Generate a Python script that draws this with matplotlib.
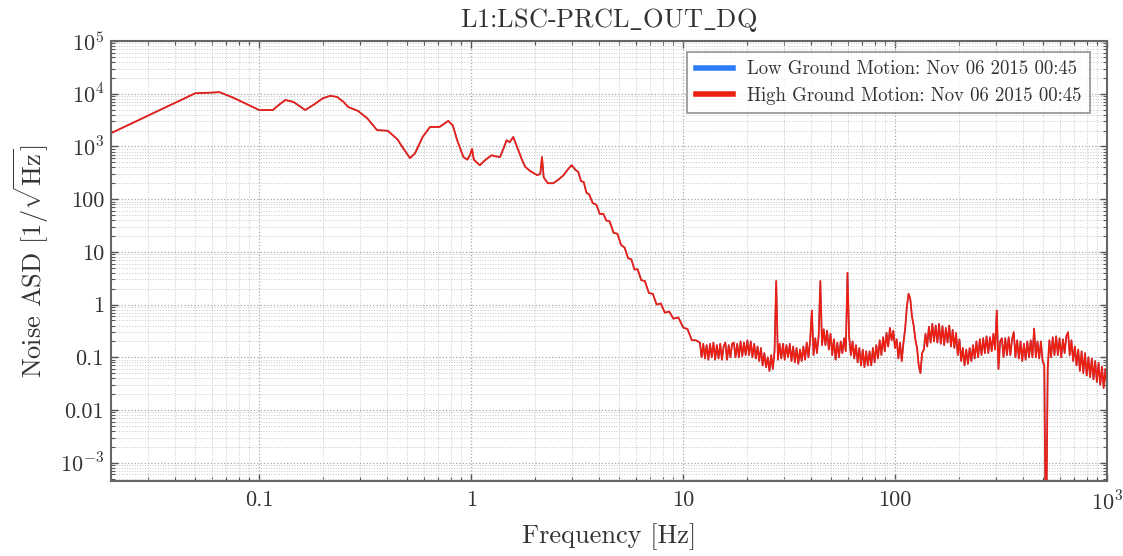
import numpy as np
import matplotlib
matplotlib.use("Agg")
import matplotlib.pyplot as plt
from matplotlib.ticker import FixedLocator, FixedFormatter, LogLocator, NullFormatter

TITLE = "L1:LSC-PRCL_OUT_DQ"
LOW_LABEL = "Low Ground Motion: Nov 06 2015 00:45"
HIGH_LABEL = "High Ground Motion: Nov 06 2015 00:45"

# Sparse low-frequency bins (Hz) and amplitude spectral density (1/sqrt(Hz))
FREQ_LOW = [0.020, 0.030, 0.040, 0.050, 0.060, 0.065, 0.075, 0.085, 0.100, 0.116,
            0.125, 0.133, 0.145, 0.165, 0.180, 0.200, 0.216, 0.233, 0.250, 0.263,
            0.293, 0.323, 0.360, 0.405, 0.450, 0.480, 0.515, 0.544, 0.590, 0.640,
            0.710, 0.780, 0.820, 0.860, 0.920, 0.960, 0.990, 1.010, 1.030, 1.100,
            1.170, 1.250, 1.300, 1.370, 1.420, 1.470, 1.520, 1.580, 1.630, 1.670,
            1.740, 1.800, 1.900, 2.050, 2.120, 2.160, 2.200, 2.300, 2.440, 2.600,
            2.730, 2.850, 2.980]
ASD_LOW = [1780, 3850, 6640, 10200, 10500, 10700, 8500, 6700, 4900, 4900,
           6300, 7600, 7000, 4900, 6100, 8200, 9100, 8700, 7000, 5600,
           4700, 3440, 2040, 1980, 1350, 900, 600, 740, 1500, 2340,
           2340, 3050, 2500, 1300, 630, 560, 700, 900, 560, 440,
           560, 680, 650, 630, 900, 1310, 1200, 1510, 1100, 850,
           550, 410, 340, 285, 300, 630, 260, 200, 200, 240,
           285, 360, 440]

# Roll-off between 3 Hz and 12 Hz
FREQ_MID = [3.0, 3.1, 3.2, 3.3, 3.4, 3.5, 3.6, 3.75, 3.9, 4.05,
            4.2, 4.35, 4.5, 4.7, 4.9, 5.1, 5.3, 5.5, 5.7, 5.9,
            6.1, 6.35, 6.6, 6.9, 7.2, 7.5, 7.85, 8.2, 8.6, 9.0,
            9.5, 10.0, 10.5, 11.0, 11.5]
ASD_MID = [430, 360, 330, 220, 210, 132, 124, 84, 78, 52,
           53, 39, 38, 23, 22, 13.5, 12, 7.6, 7.2, 4.6,
           4.7, 2.9, 2.8, 1.65, 1.6, 1.0, 1.05, 0.70, 0.74, 0.54,
           0.57, 0.37, 0.34, 0.21, 0.21]

# Dense log-spaced bins from 12 Hz to 1 kHz
ASD_HIGH = [
    0.19, 0.10, 0.18, 0.095, 0.17, 0.09, 0.18, 0.10, 0.19, 0.09, 0.17, 0.095, 0.18, 0.09, 0.16, 0.19, 0.09, 0.17, 0.10, 0.18,
    0.19, 0.10, 0.18, 0.10, 0.20, 0.105, 0.19, 0.11, 0.21, 0.11, 0.20, 0.10, 0.18, 0.095, 0.16, 0.085, 0.15, 0.07, 0.12, 0.065,
    0.10, 0.055, 0.11, 0.06, 0.13, 2.8, 0.09, 0.18, 0.095, 0.18, 0.09, 0.17, 0.10, 0.18, 0.085, 0.16, 0.08, 0.15, 0.075, 0.14,
    0.085, 0.16, 0.09, 0.19, 0.10, 0.21, 0.77, 0.11, 0.23, 0.12, 0.25, 2.8, 0.17, 0.34, 0.17, 0.32, 0.14, 0.28, 0.11, 0.22,
    0.09, 0.19, 0.10, 0.20, 0.12, 0.23, 0.13, 4.0, 0.24, 0.11, 0.20, 0.095, 0.17, 0.08, 0.15, 0.07, 0.14, 0.065, 0.13, 0.07,
    0.13, 0.07, 0.15, 0.08, 0.17, 0.095, 0.21, 0.11, 0.24, 0.13, 0.29, 0.16, 0.36, 0.21, 0.32, 0.15, 0.22, 0.095, 0.19, 0.085,
    0.19, 0.35, 0.9, 1.6, 1.3, 0.6, 0.4, 0.22, 0.15, 0.07, 0.05, 0.12, 0.14, 0.28, 0.16, 0.38, 0.19, 0.43, 0.20, 0.40,
    0.19, 0.43, 0.18, 0.39, 0.17, 0.36, 0.19, 0.40, 0.16, 0.33, 0.15, 0.29, 0.11, 0.22, 0.085, 0.15, 0.07, 0.14, 0.075, 0.15,
    0.085, 0.17, 0.095, 0.20, 0.10, 0.22, 0.11, 0.23, 0.12, 0.25, 0.12, 0.24, 0.13, 0.28, 0.14, 0.77, 0.06, 0.20, 0.23, 0.10,
    0.23, 0.11, 0.24, 0.11, 0.22, 0.30, 0.10, 0.21, 0.095, 0.20, 0.085, 0.18, 0.09, 0.20, 0.10, 0.21, 0.10, 0.35, 0.10, 0.20,
    0.095, 0.20, 0.085, 0.07, 1e-5, 0.06, 0.21, 0.10, 0.24, 0.11, 0.25, 0.11, 0.23, 0.10, 0.22, 0.12, 0.25, 0.30, 0.11, 0.21,
    0.085, 0.16, 0.07, 0.14, 0.055, 0.13, 0.05, 0.12, 0.045, 0.10, 0.042, 0.095, 0.038, 0.085, 0.034, 0.078, 0.03, 0.066, 0.026, 0.06, 0.028,
]
FREQ_HIGH = np.geomspace(12.0, 1000.0, len(ASD_HIGH))

X_TICKS = [0.1, 1, 10, 100, 1000]
X_TICK_LABELS = ["0.1", "1", "10", "100", r"$10^{3}$"]
Y_TICKS = [1e-3, 1e-2, 0.1, 1, 10, 100, 1e3, 1e4, 1e5]
Y_TICK_LABELS = [r"$10^{-3}$", "0.01", "0.1", "1", "10", "100",
                 r"$10^{3}$", r"$10^{4}$", r"$10^{5}$"]

freq = np.concatenate([FREQ_LOW, FREQ_MID, FREQ_HIGH])
asd = np.concatenate([ASD_LOW, ASD_MID, ASD_HIGH])

plt.rcParams["font.family"] = ["cmr10", "DejaVu Serif"]
plt.rcParams["mathtext.fontset"] = "cm"
plt.rcParams["axes.unicode_minus"] = False

BLUE = "#2b7cf6"
RED = "#ec2012"
TEXT = "#333333"

fig = plt.figure(figsize=(11.23, 5.56), dpi=100)
ax = fig.add_axes([0.0988, 0.1349, 0.8870, 0.7914])

ax.plot(freq, asd, color=BLUE, lw=1.0, label=LOW_LABEL)
ax.plot(freq, asd, color=RED, lw=1.3, label=HIGH_LABEL)

ax.set_xscale("log")
ax.set_yscale("log")
ax.set_xlim(0.02, 1000)
ax.set_ylim(4.5e-4, 1e5)

ax.xaxis.set_major_locator(FixedLocator(X_TICKS))
ax.xaxis.set_major_formatter(FixedFormatter(X_TICK_LABELS))
ax.yaxis.set_major_locator(FixedLocator(Y_TICKS))
ax.yaxis.set_major_formatter(FixedFormatter(Y_TICK_LABELS))
ax.xaxis.set_minor_locator(LogLocator(base=10, subs=np.arange(2, 10), numticks=30))
ax.yaxis.set_minor_locator(LogLocator(base=10, subs=np.arange(2, 10), numticks=30))
ax.xaxis.set_minor_formatter(NullFormatter())
ax.yaxis.set_minor_formatter(NullFormatter())

ax.tick_params(which="both", direction="in", top=True, right=True, colors="#555555",
               labelcolor=TEXT)
ax.tick_params(which="major", length=5, width=1.0, labelsize=16)
ax.tick_params(which="minor", length=3, width=0.8)
ax.tick_params(axis="x", which="major", pad=7)
ax.tick_params(axis="y", which="major", pad=5)

ax.grid(True, which="major", color="#a8a8a8", ls=":", lw=0.9)
ax.grid(True, which="minor", color="#c8c8c8", ls=":", lw=0.7)
ax.set_axisbelow(True)

for sp in ax.spines.values():
    sp.set_color("#666666")
    sp.set_linewidth(1.5)

# underscores are set through mathtext so they come out as low bars
title = ax.set_title(TITLE.replace("_", r"$\_$"), fontsize=19, color=TEXT, pad=10)
try:
    fig.canvas.draw()
except Exception:
    title.set_text(TITLE)
    title.set_fontfamily("DejaVu Serif")

ax.set_xlabel("Frequency [Hz]", fontsize=19, color=TEXT, labelpad=6)
ax.set_ylabel(r"Noise ASD [$1/\sqrt{\mathrm{Hz}}$]", fontsize=19, color=TEXT,
              labelpad=6)

leg = ax.legend(loc="upper right", bbox_to_anchor=(0.983, 0.975), borderaxespad=0,
                fontsize=13.5, frameon=True, fancybox=False, edgecolor="#777777",
                handlelength=2.0, handletextpad=0.75, labelspacing=0.45,
                borderpad=0.45)
leg.get_frame().set_linewidth(1.2)
for h in leg.legend_handles:
    h.set_linewidth(4)
for t in leg.get_texts():
    t.set_color(TEXT)

fig.savefig("out.png", dpi=100)
